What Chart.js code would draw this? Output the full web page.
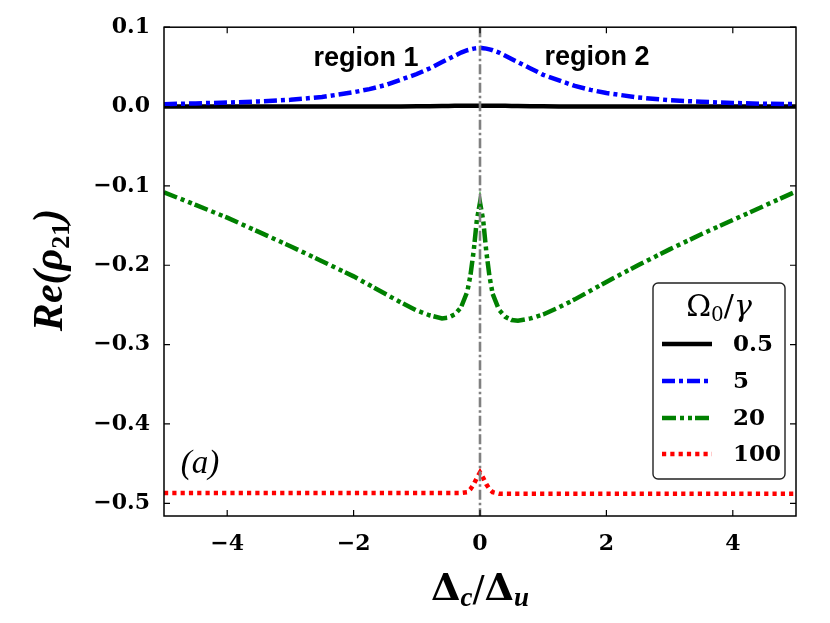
<!DOCTYPE html>
<html>
<head>
<meta charset="utf-8">
<script src="https://cdn.jsdelivr.net/npm/chart.js@4.4.0/dist/chart.umd.min.js"></script>
<style>
  html, body { margin: 0; background: #fff; }
  #wrap { width: 830px; height: 623px; }
</style>
</head>
<body>
<div id="wrap"><canvas id="chart"></canvas></div>
<script>
// Detuning grid (denser around the resonance)
const xGrid = [-5, -4.5, -4, -3.5, -3, -2.5, -2, -1.75, -1.5, -1.25, -1, -0.8, -0.6, -0.5, -0.4, -0.3, -0.2, -0.15, -0.1, -0.05,
  0, 0.05, 0.1, 0.15, 0.2, 0.3, 0.4, 0.5, 0.6, 0.8, 1, 1.25, 1.5, 1.75, 2, 2.5, 3, 3.5, 4, 4.5, 5];

// Re(rho21) for each Omega0/gamma
const rho05 = [0, 0, 0, 0, 0, 0, 0, 0, 0, 0, 0.0005, 0.0005, 0.0008, 0.0008, 0.001, 0.001, 0.001, 0.001, 0.001, 0.001,
  0.001, 0.001, 0.001, 0.001, 0.001, 0.001, 0.001, 0.0008, 0.0008, 0.0005, 0.0005, 0, 0, 0, 0, 0, 0, 0, 0, 0, 0];
const rho5 = [0.003, 0.004, 0.005, 0.0065, 0.0085, 0.012, 0.018, 0.022, 0.027, 0.034, 0.041, 0.048, 0.056, 0.060, 0.064, 0.068, 0.071, 0.072, 0.073, 0.0735,
  0.074, 0.0735, 0.073, 0.072, 0.071, 0.068, 0.064, 0.060, 0.056, 0.048, 0.040, 0.033, 0.026, 0.021, 0.017, 0.0115, 0.008, 0.006, 0.0045, 0.0035, 0.003];
const rho20 = [-0.108, -0.124, -0.140, -0.158, -0.176, -0.195, -0.214, -0.225, -0.236, -0.247, -0.257, -0.263, -0.267, -0.266, -0.262, -0.253, -0.233, -0.212, -0.182, -0.143,
  -0.121, -0.143, -0.183, -0.214, -0.236, -0.256, -0.265, -0.269, -0.270, -0.267, -0.262, -0.253, -0.243, -0.232, -0.221, -0.200, -0.180, -0.161, -0.143, -0.125, -0.107];
const rho100 = [-0.487, -0.487, -0.487, -0.487, -0.487, -0.487, -0.487, -0.487, -0.487, -0.487, -0.487, -0.487, -0.487, -0.487, -0.487, -0.487, -0.486, -0.482, -0.476, -0.468,
  -0.461, -0.468, -0.476, -0.482, -0.486, -0.488, -0.488, -0.488, -0.488, -0.488, -0.488, -0.488, -0.488, -0.488, -0.488, -0.488, -0.488, -0.488, -0.488, -0.488, -0.488];

// vertical guide at zero detuning
const guideX = [0, 0];
const guideY = [0.1, -0.516];

const xTickValues = [-4, -2, 0, 2, 4];
const yTickValues = [0.1, 0.0, -0.1, -0.2, -0.3, -0.4, -0.5];
const legendLabels = ['0.5', '5', '20', '100'];

const toPoints = (xs, ys) => xs.map((x, i) => ({ x, y: ys[i] }));
const fmt = (v, d) => {
  const s = Math.abs(v).toFixed(d);
  return v < -1e-9 ? '\u2212' + s : s;
};

const series = [
  { label: legendLabels[0], values: rho05, color: '#000000', dash: [], order: 4 },
  { label: legendLabels[1], values: rho5, color: '#0000ff', dash: [13, 4, 4, 4], order: 3 },
  { label: legendLabels[2], values: rho20, color: '#008000', dash: [14, 4, 4, 4, 4, 3], order: 2 },
  { label: legendLabels[3], values: rho100, color: '#ff0000', dash: [4.2, 4.1], order: 1 }
];

const datasets = series.map(s => ({
  label: s.label,
  data: toPoints(xGrid, s.values),
  borderColor: s.color,
  borderWidth: 4.5,
  borderDash: s.dash,
  pointRadius: 0,
  tension: 0,
  order: s.order
}));
datasets.push({
  label: 'guide',
  data: toPoints(guideX, guideY),
  borderColor: '#808080',
  borderWidth: 2.6,
  borderDash: [10, 3, 2.5, 3],
  pointRadius: 0,
  order: 0
});

const tickFont = { family: 'DejaVu Serif', weight: 'bold', size: 22 };

function drawRich(ctx, parts, x, y) {
  let total = 0;
  parts.forEach(p => { ctx.font = p[1]; total += ctx.measureText(p[0]).width; });
  let cx = x - total / 2;
  ctx.textAlign = 'left';
  ctx.textBaseline = 'alphabetic';
  parts.forEach(p => {
    ctx.font = p[1];
    ctx.fillText(p[0], cx, y + p[2]);
    cx += ctx.measureText(p[0]).width;
  });
}

const decorPlugin = {
  id: 'decor',
  afterDraw(chart) {
    const { ctx, chartArea: a, scales } = chart;
    ctx.save();
    ctx.fillStyle = '#000';
    ctx.strokeStyle = '#000';

    // frame + inward ticks on all sides
    ctx.lineWidth = 1.5;
    ctx.strokeRect(a.left, a.top, a.right - a.left, a.bottom - a.top);
    ctx.lineWidth = 1.2;
    ctx.beginPath();
    xTickValues.forEach(v => {
      const px = scales.x.getPixelForValue(v);
      ctx.moveTo(px, a.bottom); ctx.lineTo(px, a.bottom - 6);
      ctx.moveTo(px, a.top); ctx.lineTo(px, a.top + 6);
    });
    yTickValues.forEach(v => {
      const py = scales.y.getPixelForValue(v);
      ctx.moveTo(a.left, py); ctx.lineTo(a.left + 6, py);
      ctx.moveTo(a.right, py); ctx.lineTo(a.right - 6, py);
    });
    ctx.stroke();

    // annotations
    ctx.textAlign = 'center';
    ctx.textBaseline = 'alphabetic';
    ctx.font = 'bold 27px "Liberation Sans"';
    ctx.fillText('region 1', 366, 66);
    ctx.fillText('region 2', 597, 65);
    ctx.font = 'italic 33px "Liberation Serif"';
    ctx.fillText('(a)', 200, 473);

    // axis titles
    drawRich(ctx, [
      ['\u0394', 'bold 38px "DejaVu Serif"', 0],
      ['c', 'bold italic 27px "Liberation Serif"', 6],
      ['/', '36px "DejaVu Serif"', 1],
      ['\u0394', 'bold 38px "DejaVu Serif"', 0],
      ['u', 'bold italic 27px "Liberation Serif"', 6]
    ], 480, 600);

    ctx.save();
    ctx.translate(62, 270);
    ctx.rotate(-Math.PI / 2);
    drawRich(ctx, [
      ['Re(\u03c1', 'bold italic 42px "Liberation Serif"', 0],
      ['21', 'bold 26px "Liberation Serif"', 7],
      [')', 'bold italic 42px "Liberation Serif"', 0]
    ], 0, 0);
    ctx.restore();

    // legend box
    const lx = 653, ly = 283, lw = 132, lh = 196;
    ctx.beginPath();
    ctx.roundRect(lx, ly, lw, lh, 5);
    ctx.fillStyle = 'rgba(255,255,255,0.9)';
    ctx.fill();
    ctx.strokeStyle = '#222';
    ctx.lineWidth = 1.4;
    ctx.stroke();
    ctx.fillStyle = '#000';
    drawRich(ctx, [
      ['\u03a9', '30px "DejaVu Serif"', 0],
      ['0', '20px "DejaVu Serif"', 5],
      ['/', '30px "DejaVu Serif"', 0],
      ['\u03b3', 'italic 30px "DejaVu Serif"', 0]
    ], 719, 316);

    const rowY = [344, 381, 418, 454];
    series.forEach((s, i) => {
      ctx.beginPath();
      ctx.strokeStyle = s.color;
      ctx.lineWidth = 4.5;
      ctx.lineCap = 'butt';
      ctx.setLineDash(s.dash);
      ctx.moveTo(662, rowY[i]);
      ctx.lineTo(712, rowY[i]);
      ctx.stroke();
      ctx.setLineDash([]);
      ctx.font = 'bold 23px "DejaVu Serif"';
      ctx.textAlign = 'left';
      ctx.textBaseline = 'middle';
      ctx.fillText(s.label, 733, rowY[i] + 1);
    });
    ctx.restore();
  }
};

const ctx = document.getElementById('chart').getContext('2d');
new Chart(ctx, {
  type: 'line',
  data: { datasets },
  options: {
    responsive: true,
    maintainAspectRatio: false,
    animation: false,
    layout: { padding: { top: 25, right: 34, left: 0, bottom: 0 } },
    plugins: { legend: { display: false }, tooltip: { enabled: false } },
    scales: {
      x: {
        type: 'linear',
        min: -5,
        max: 5,
        afterBuildTicks: s => { s.ticks = xTickValues.map(v => ({ value: v })); },
        afterFit: s => { s.height = 107; },
        grid: { display: false, drawTicks: false },
        border: { display: false },
        ticks: { padding: 15, font: tickFont, color: '#000', autoSkip: false, maxRotation: 0, callback: v => fmt(v, 0) }
      },
      y: {
        type: 'linear',
        min: -0.516,
        max: 0.1,
        afterBuildTicks: s => { s.ticks = yTickValues.map(v => ({ value: v })); },
        afterFit: s => { s.width = 164; },
        grid: { display: false, drawTicks: false },
        border: { display: false },
        ticks: { padding: 14, font: tickFont, color: '#000', autoSkip: false, callback: v => fmt(v, 1) }
      }
    }
  },
  plugins: [decorPlugin]
});
</script>
</body>
</html>
